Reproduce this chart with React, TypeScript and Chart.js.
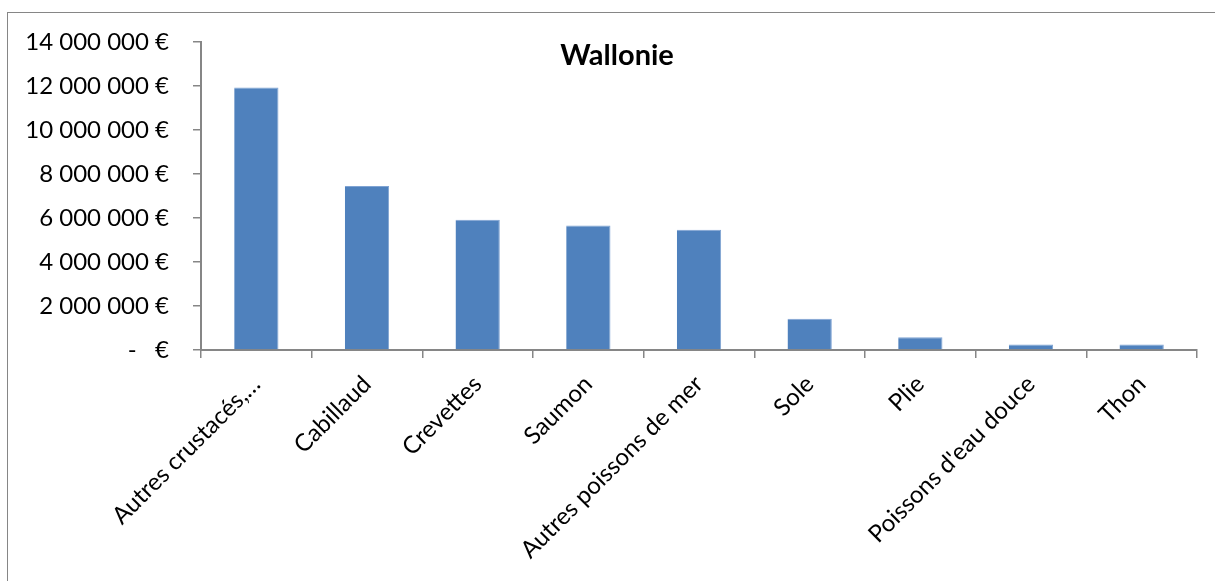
import React, { useEffect, useRef } from "react";
import { Chart, registerables } from "chart.js";

Chart.register(...registerables);

const categories = [
  "Autres crustacés,…",
  "Cabillaud",
  "Crevettes",
  "Saumon",
  "Autres poissons de mer",
  "Sole",
  "Plie",
  "Poissons d'eau douce",
  "Thon",
];
const values = [11930000, 7460000, 5920000, 5660000, 5470000, 1420000, 580000, 250000, 250000];
const chartTitle = "Wallonie";
const yMax = 14000000;
const yStep = 2000000;

const FONT = "Lato, 'Open Sans', sans-serif";

function formatEuro(v: number): string {
  if (v === 0) return "-\u00a0\u00a0\u00a0€";
  const s = Math.round(v).toString().replace(/\B(?=(\d{3})+(?!\d))/g, "\u00a0");
  return s + "\u00a0€";
}

const titlePlugin = {
  id: "customTitle",
  afterDraw(chart: any) {
    const ctx = chart.ctx;
    ctx.save();
    ctx.font = `bold 29px ${FONT}`;
    ctx.fillStyle = "#000";
    ctx.textAlign = "center";
    ctx.textBaseline = "middle";
    ctx.fillText(chartTitle, 617, 56);
    ctx.restore();
  },
};

export default function App() {
  const ref = useRef<HTMLCanvasElement | null>(null);
  useEffect(() => {
    if (!ref.current) return;
    const chart = new Chart(ref.current, {
      type: "bar",
      data: {
        labels: categories,
        datasets: [
          {
            data: values,
            backgroundColor: "#4F81BD",
            borderColor: "#7FA3D3",
            borderWidth: { top: 1, right: 1, left: 0, bottom: 0 },
            categoryPercentage: 1,
            barPercentage: 0.4,
          },
        ],
      },
      options: {
        animation: false,
        responsive: false,
        maintainAspectRatio: false,
        layout: { padding: { left: 0, right: 18, top: 42, bottom: 0 } },
        plugins: { legend: { display: false }, title: { display: false }, tooltip: { enabled: false } },
        scales: {
          x: {
            grid: { drawOnChartArea: false, drawTicks: true, tickLength: 8, color: "#868686", lineWidth: 1.5, offset: true },
            border: { display: true, color: "#868686", width: 2 },
            ticks: {
              color: "#000",
              font: { family: FONT, size: 24 },
              minRotation: 45,
              maxRotation: 45,
              autoSkip: false,
              padding: 12,
            },
            afterFit(scale: any) {
              scale.height = 231;
            },
          },
          y: {
            min: 0,
            max: yMax,
            grid: { drawOnChartArea: false, drawTicks: true, tickLength: 8, color: "#868686", lineWidth: 1.5 },
            border: { display: true, color: "#868686", width: 2 },
            ticks: {
              stepSize: yStep,
              color: "#000",
              font: { family: FONT, size: 24 },
              padding: 24,
              callback: (v: any) => formatEuro(Number(v)),
            },
            afterFit(scale: any) {
              scale.width = 201;
            },
          },
        },
      },
      plugins: [titlePlugin],
    });
    return () => chart.destroy();
  }, []);

  return (
    <div style={{ position: "fixed", left: 0, top: 0, width: 1215, height: 581, overflow: "hidden", background: "#fff" }}>
      <div
        style={{
          position: "absolute",
          left: 7,
          top: 12,
          width: 1300,
          height: 700,
          border: "1.5px solid #868686",
          boxSizing: "border-box",
        }}
      />
      <canvas ref={ref} width={1215} height={581} style={{ position: "absolute", left: 0, top: 0, width: 1215, height: 581 }} />
    </div>
  );
}
